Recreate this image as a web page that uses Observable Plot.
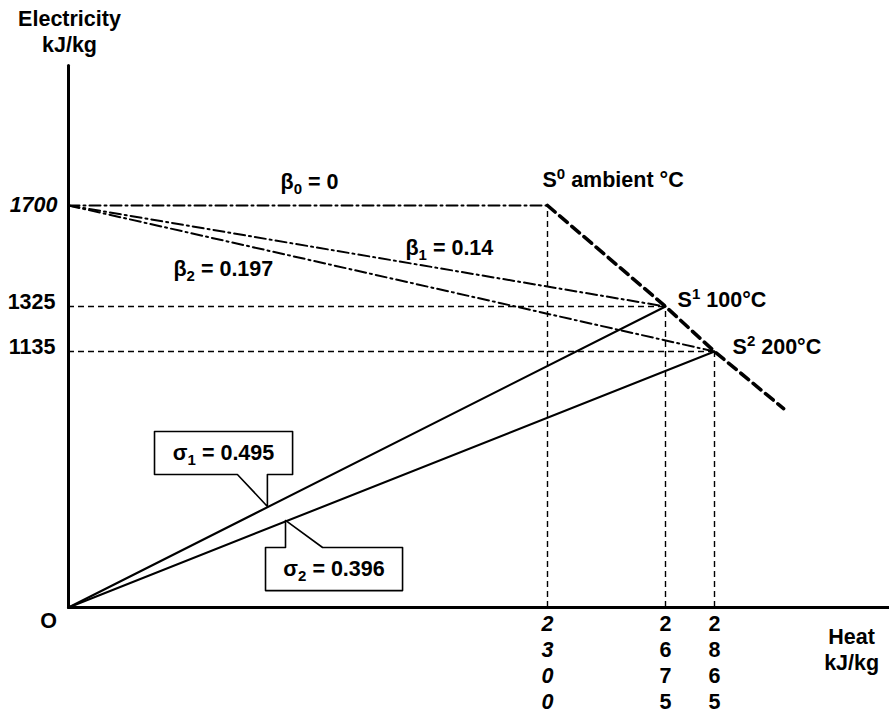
<!DOCTYPE html>
<html><head><meta charset="utf-8">
<script src="https://cdn.jsdelivr.net/npm/d3@7"></script>
<script src="https://cdn.jsdelivr.net/npm/@observablehq/plot@0.6"></script>
<style>body{margin:0;background:#fff} svg{display:block}</style>
</head><body><div id="chart"></div>
<script>
// ---- data ----
const states = ["S0", "S1", "S2"];
const heat = [2300, 2675, 2865];          // kJ/kg
const electricity = [1700, 1325, 1135];   // kJ/kg
const stateLabels = ["S^0 ambient °C", "S^1 100°C", "S^2 200°C"];
const stateLabelX = [2276, 2722, 2935];
const stateLabelY = [1767, 1321, 1126];
const betaLabels = ["β_0 = 0", "β_1 = 0.14", "β_2 = 0.197"];
const betaLabelX = [1018, 1618, 504];
const betaLabelY = [1763, 1518, 1440];
const sigmaLabels = ["σ_1 = 0.495", "σ_2 = 0.396"];
const sigmaBoxX1 = [413, 946], sigmaBoxX2 = [1076, 1604];
const sigmaBoxY1 = [590, 75], sigmaBoxY2 = [780, 266];
const sigmaPointerBase = [[811, 955], [1042, 1220]];
const sigmaPointerTip = [[955, 448], [1042, 386]];
const xTicks = [2300, 2675, 2865];
const yTicks = [1700, 1325, 1135];
const lineEnd = {x: 3133, y: 882};
const axisMax = {x: 3544, y: 2220};

// ---- derived tables ----
const S = states.map((s, i) => ({s, x: heat[i], y: electricity[i]}));
const sigmaLines = S.slice(1).flatMap(d => [{k: d.s, x: 0, y: 0}, {k: d.s, x: d.x, y: d.y}]);
const betaLines = S.flatMap(d => [{k: d.s, x: 0, y: electricity[0]}, {k: d.s, x: d.x, y: d.y}]);
const stateLine = [...S.map(d => ({x: d.x, y: d.y})), lineEnd];
const axes = [{k: "y", x: 0, y: axisMax.y}, {k: "y", x: 0, y: 0}, {k: "x", x: 0, y: 0}, {k: "x", x: axisMax.x, y: 0}];
const callouts = [];
sigmaLabels.forEach((l, i) => {
  const x1 = sigmaBoxX1[i], x2 = sigmaBoxX2[i], y1 = sigmaBoxY1[i], y2 = sigmaBoxY2[i];
  const [b1, b2] = sigmaPointerBase[i], [tx, ty] = sigmaPointerTip[i];
  const pointerBelow = ty < y1;
  const pts = pointerBelow
    ? [[x1, y2], [x2, y2], [x2, y1], [b2, y1], [tx, ty], [b1, y1], [x1, y1], [x1, y2]]
    : [[x1, y1], [x1, y2], [b1, y2], [tx, ty], [b2, y2], [x2, y2], [x2, y1], [x1, y1]];
  pts.forEach(([x, y]) => callouts.push({k: i, x, y}));
});
const calloutText = sigmaLabels.map((t, i) => ({t, x: (sigmaBoxX1[i] + sigmaBoxX2[i]) / 2, y: (sigmaBoxY1[i] + sigmaBoxY2[i]) / 2}));

const font = "'Liberation Sans', Arial, sans-serif";
const fs = 21.5;
const txt = {fontFamily: font, fontSize: fs, fontWeight: "bold", fill: "black"};

const chart = Plot.plot({
  width: 889, height: 716,
  marginLeft: 68, marginBottom: 109, marginTop: 0, marginRight: 0,
  x: {type: "linear", domain: [0, ...heat], range: [68, 547, 665, 714], axis: null},
  y: {type: "linear", domain: [0, ...electricity.slice().reverse()], range: [607, 351, 306, 205], axis: null},
  style: {fontFamily: font, background: "white", overflow: "visible"},
  marks: [
    // guides
    Plot.ruleX(S, {x: "x", y1: 0, y2: "y", stroke: "black", strokeWidth: 1.4, strokeDasharray: "6,4"}),
    Plot.ruleY(S.slice(1), {y: "y", x1: 0, x2: "x", stroke: "black", strokeWidth: 1.4, strokeDasharray: "6,4"}),
    // beta lines
    Plot.line(betaLines, {x: "x", y: "y", z: "k", stroke: "black", strokeWidth: 2, strokeDasharray: "11,4,2,4"}),
    // sigma lines
    Plot.line(sigmaLines, {x: "x", y: "y", z: "k", stroke: "black", strokeWidth: 2.1}),
    // state line
    Plot.line(stateLine, {x: "x", y: "y", stroke: "black", strokeWidth: 3.6, strokeDasharray: "10,6"}),
    // axes
    Plot.line(axes, {x: "x", y: "y", z: "k", stroke: "black", strokeWidth: 3}),
    // callouts
    Plot.line(callouts, {x: "x", y: "y", z: "k", stroke: "black", strokeWidth: 1.6, fill: "white"}),
    Plot.text(calloutText, {x: "x", y: "y", text: "t", ...txt, lineAnchor: "middle"}),
    // labels
    Plot.text(stateLabels, {x: (d, i) => stateLabelX[i], y: (d, i) => stateLabelY[i], text: d => d, ...txt, textAnchor: "start", lineAnchor: "bottom"}),
    Plot.text(betaLabels, {x: (d, i) => betaLabelX[i], y: (d, i) => betaLabelY[i], text: d => d, ...txt, textAnchor: "start", lineAnchor: "bottom"}),
    // y tick labels
    Plot.text(yTicks.slice(0, 1), {x: 0, y: d => d, text: d => String(d), ...txt, fontStyle: "italic", textAnchor: "end", dx: -11, lineAnchor: "middle", dy: 0}),
    Plot.text(yTicks.slice(1), {x: 0, y: d => d, text: d => String(d), ...txt, textAnchor: "end", dx: -13, lineAnchor: "bottom", dy: 2}),
    // x tick labels (stacked digits)
    Plot.text(xTicks.slice(0, 1), {x: d => d, y: 0, text: d => String(d).split("").join("\n"), ...txt, fontStyle: "italic", lineAnchor: "top", lineHeight: 1.21, dy: 5}),
    Plot.text(xTicks.slice(1), {x: d => d, y: 0, text: d => String(d).split("").join("\n"), ...txt, lineAnchor: "top", lineHeight: 1.21, dy: 5}),
    // origin & axis titles
    Plot.text(["O"], {x: 0, y: 0, text: d => d, ...txt, textAnchor: "middle", lineAnchor: "bottom", dx: -20, dy: 20}),
    Plot.text(["Electricity\nkJ/kg"], {x: 0, y: axisMax.y, text: d => d, ...txt, textAnchor: "middle", lineAnchor: "bottom", lineHeight: 1.21, dx: 1, dy: -13}),
    Plot.text(["Heat\nkJ/kg"], {x: axisMax.x, y: 0, text: d => d, ...txt, textAnchor: "middle", lineAnchor: "top", lineHeight: 1.17, dx: -38, dy: 19})
  ]
});
document.getElementById("chart").appendChild(chart);

// sub/superscripts: "_d" -> subscript, "^d" -> superscript
const NS = "http://www.w3.org/2000/svg";
chart.querySelectorAll("text").forEach(t => {
  const leaves = t.querySelector("tspan") ? [...t.querySelectorAll("tspan")] : [t];
  leaves.forEach(n => {
    const m = n.textContent.match(/^(.*?)([_^])(\d)(.*)$/);
    if (!m) return;
    n.textContent = "";
    const add = (s, attrs) => {
      const ts = document.createElementNS(NS, "tspan");
      ts.textContent = s;
      for (const k in attrs) ts.setAttribute(k, attrs[k]);
      n.appendChild(ts);
    };
    add(m[1], {});
    add(m[3], m[2] === "_" ? {"baseline-shift": "-5px", "font-size": "15px"} : {"baseline-shift": "8px", "font-size": "15px"});
    add(m[4], {});
  });
});
</script>
</body></html>
